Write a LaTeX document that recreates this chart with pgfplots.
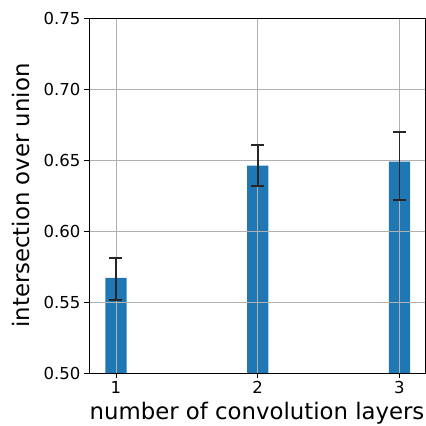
\documentclass[border=0pt]{standalone}
\usepackage{pgfplots}
\pgfplotsset{compat=1.18}
\usepackage{fontspec}
\setmainfont{DejaVu Sans}
\definecolor{mplblue}{HTML}{1F77B4}
\definecolor{gridgray}{HTML}{B0B0B0}
\pgfplotstableread{
x y ep em
1 0.567 0.0140 0.0157
2 0.646 0.0148 0.0143
3 0.6488 0.0208 0.0270
}\iou
\begin{document}
\begin{tikzpicture}
\begin{axis}[
  set layers,
  scale only axis,
  width=336pt, height=355pt,
  xmin=0.81, xmax=3.18,
  ymin=0.5, ymax=0.75,
  xtick={1,2,3},
  ytick={0.50,0.55,0.60,0.65,0.70,0.75},
  yticklabel style={/pgf/number format/.cd, fixed, fixed zerofill, precision=2},
  /pgf/number format/assume math mode=true,
  xtick pos=bottom, ytick pos=left,
  tick align=outside,
  major tick length=5pt,
  tick style={black, line width=0.8pt},
  tick label style={font=\fontsize{16.5}{19}\selectfont},
  grid=major,
  grid style={gridgray, line width=0.8pt},
  axis line style={black, line width=0.8pt},
  xlabel={number of convolution layers},
  ylabel={intersection over union},
  label style={font=\fontsize{22.8}{26}\selectfont},
  xlabel style={at={(axis description cs:0.5,-0.112)}, anchor=center},
  ylabel style={at={(axis description cs:-0.2024,0.5)}, anchor=center},
]
\addplot[ybar, bar width=0.15, fill=mplblue, draw=none, on layer=axis background]
  table[x=x, y=y] {\iou};
\addplot[draw=none, mark=none,
  error bars/.cd, y dir=both, y explicit,
  error bar style={line width=1.7pt, black!85},
  error mark options={rotate=90, mark size=6.5pt, line width=1.7pt, black!85}]
  table[x=x, y=y, y error plus=ep, y error minus=em] {\iou};
\end{axis}
\pgfresetboundingbox
\useasboundingbox ([shift={(-89pt,-53pt)}]current axis.south west) rectangle ([shift={(1pt,18pt)}]current axis.north east);
\end{tikzpicture}
\end{document}
